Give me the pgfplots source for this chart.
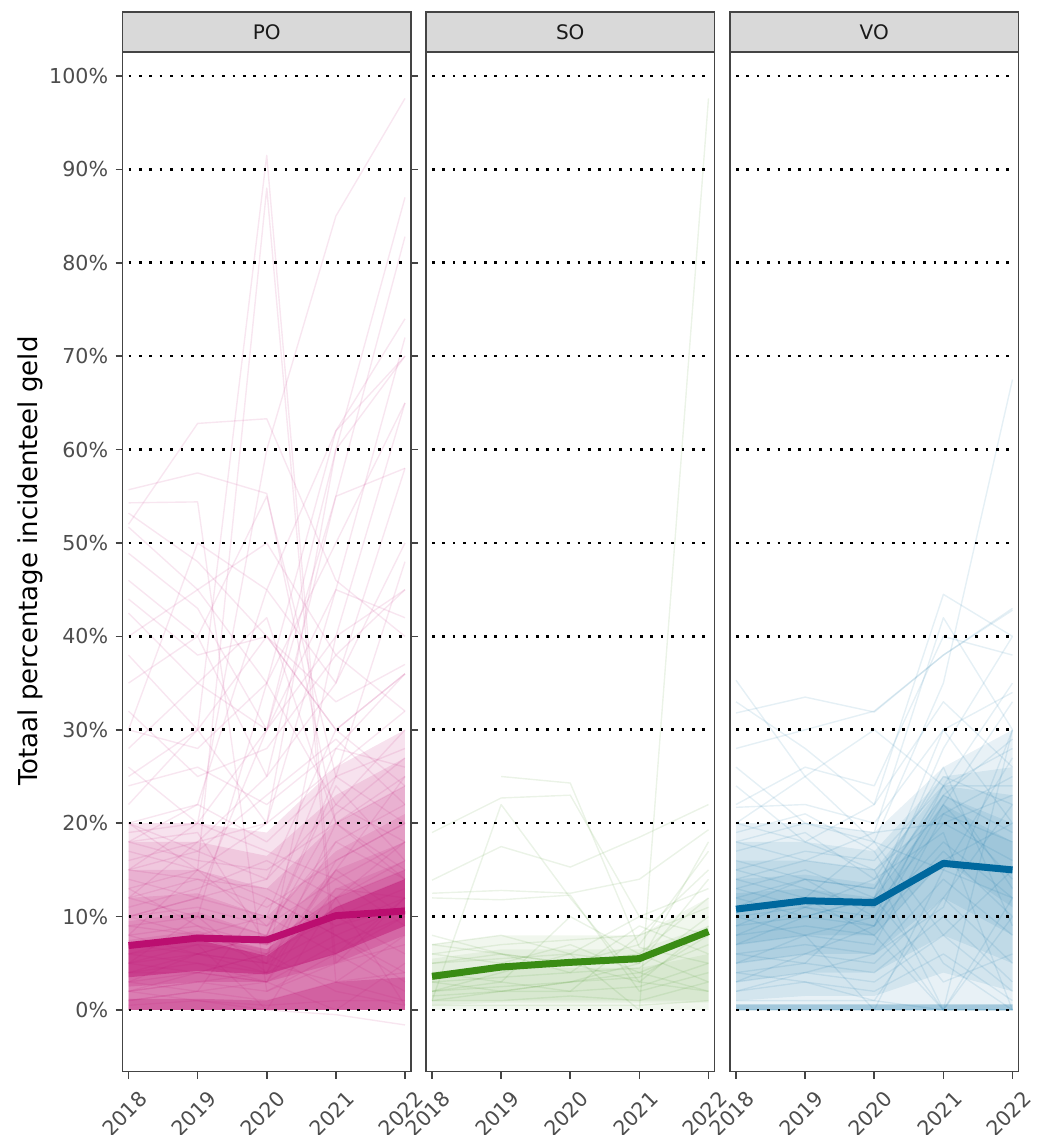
\documentclass[border=0pt]{standalone}
\usepackage{pgfplots}
\pgfplotsset{compat=1.18}
\usepackage{pgfplotstable}
\usepackage{fontspec}
\setmainfont{DejaVu Sans}
\definecolor{POc}{HTML}{BB0E70}
\definecolor{SOc}{HTML}{3A8C14}
\definecolor{VOc}{HTML}{00689E}
\definecolor{stripfill}{HTML}{D9D9D9}
\definecolor{framec}{HTML}{444444}
\definecolor{tickc}{HTML}{4D4D4D}
\definecolor{stripc}{HTML}{1A1A1A}

% each row is one school board: values for 2018..2022
\pgfplotstableread[header=has colnames]{
2018 2019 2020 2021 2022
55.7 57.5 55.3 20 25
54.3 54.4 2 6 10
52 62.8 63.3 46 40
53.2 48 40 30 36
51.7 45 50 38 45
48.9 43 30 55 58
46 40 25 35 50
42.5 35 42 20 15
38 30 20 60 70
30 28 35 62 74
25 30 91.5 5 12
20 15 88 3 8
15 20 60 85 97.6
10 12 30 60 87
12 18 25 55 82.8
8 15 20 45 72
5 10 35 50 65
18 22 45 35 58
28 35 30 40 45
35 40 55 25 20
22 30 40 30 36
32 25 28 38 32
40 45 35 22 18
30 50 45 62 70
10 8 5 40 65
24 26 22 28 26
26 20 30 45 42
4 6 8 25 48
2 1 0 -0.5 -1.6
44 38 40 33 37
20 22 18 25 28
18 16 15 20 24
15 17 14 22 30
12 14 11 16 20
10 11 9 14 18
8 9 7 12 15
6 7 6 10 13
5 6 5 9 12
4 5 4 8 11
3 4 3 7 10
2 3 2 5 7
1 2 1 3 4
0.5 1 0.5 1 1
7 8 6 18 22
9 10 4 20 14
14 12 10 6 2
17 15 12 8 3
11 13 16 12 0.5
6 5 3 0 5
13 9 5 15 25
19 20 17 14 9
3 6 8 24 16
5 7 0 12 18
16 18 20 26 32
7 6 5 3 1
2 4 6 11 14
4 4 3 13 12
12 10 8 21 27
9 8 7 10 6
1 2 3 16 20
15 14 13 9 11
18 19 7 12 16
6 8 10 28 36
3 2 12 8 4
10 12 14 30 24
5 4 6 2 0.5
8 6 4 15 10
2 3 4 6 12
13 15 9 18 14
20 17 23 29 22
}\POraw
\pgfplotstableread[header=has colnames]{
2018 2019 2020 2021 2022
nan 25 24.3 6.7 5
19 22.7 23 10 8
13.9 17.5 15.3 18.5 22
12.5 12.8 12.5 14 19.3
1 22 12 3 2
12 11.8 12.3 2 4
5 5.5 6 0 97.6
6 7 7.5 8 15
4 4.5 5 6 12
3 3.5 4 4.5 10
2 2.5 3 3.5 8
1.5 2 2 2.5 5
1 1 1.5 1 3
0.5 0.5 0.5 0.5 1
7 6 5 7 17
5 6 4 9 6
3 2 3 5 14
2 4 6 5 18
6 5 7 4 2
8 6 5 3 9
4 3 2 8 11
2 3 10 6 3
1 2 3 4 7
7 8 6 10 13
}\SOraw
\pgfplotstableread[header=has colnames]{
2018 2019 2020 2021 2022
35.3 25 18 15 12
31.8 33.5 31.9 38 42.8
33 28 22 44.5 40
28 30 32 38 43
22 26 24 40 38
26 20 18 35 67.5
21.7 22 20 30 34
20 25 30 24 28
24 18 15 0 30
18 20 19 42 30
15 17 16 24 35
12 14 13 23 29
14 16 15 21 18
13 15 12 22 14
11 12 11 20 16
10 11 10 18 12
9 10 9 17 10
8 9 8 16 20
7 8 7 21 25
6 7 6 14 8
5 6 5 12 5
4 5 4 10 3
3 4 3 8 15
2 3 2 6 1
1 1 1 0 0
0 0 0 0 0
16 14 10 0 12
17 19 14 25 22
19 21 17 5 0
6 5 12 24 24
9 12 8 0 10
12 10 12 30 20
15 13 11 28 40
3 6 9 22 33
10 8 0 15 27
14 12 18 8 2
8 11 14 19 0
5 8 10 23 19
11 14 13 26 9
18 16 19 20 23
2 4 6 11 30
7 10 12 3 6
13 11 9 24 13
20 18 22 33 26
4 3 1 12 22
}\VOraw
\pgfplotstabletranspose[header=has colnames]{\POt}{\POraw}
\pgfplotstabletranspose[header=has colnames]{\SOt}{\SOraw}
\pgfplotstabletranspose[header=has colnames]{\VOt}{\VOraw}
\pgfplotstablegetcolsof{\POt}\pgfmathtruncatemacro{\NPO}{\pgfplotsretval-1}
\pgfplotstablegetcolsof{\SOt}\pgfmathtruncatemacro{\NSO}{\pgfplotsretval-1}
\pgfplotstablegetcolsof{\VOt}\pgfmathtruncatemacro{\NVO}{\pgfplotsretval-1}

\pgfplotsset{
  panel/.style={
    scale only axis, width=144.25pt, height=509.75pt,
    xmin=2017.913, xmax=2022.087, ymin=-6.585, ymax=102.57,
    axis line style={draw=framec, line width=0.8pt},
    xtick={2018,2019,2020,2021,2022},
    xticklabels={2018,2019,2020,2021,2022},
    tick align=outside, major tick length=3.5pt,
    tick style={draw=framec, line width=0.8pt},
    xticklabel style={font=\fontsize{10.3}{12}\selectfont, text=tickc, rotate=45,
      anchor=north east, inner sep=0pt, xshift=-0.5pt, yshift=-7pt, overlay},
    yticklabel style={font=\fontsize{10.3}{12}\selectfont, text=tickc, inner sep=0pt, anchor=east, xshift=-3.5pt},
    unbounded coords=jump,
  },
  bg/.style={draw=#1, draw opacity=0.1, line width=0.7pt, line join=round},
  main/.style={draw=#1, line width=3.5pt, line join=round},
  band/.style={draw=none, fill=#1},
}
\newcommand{\gridlines}{%
  \pgfplotsinvokeforeach{0,10,...,100}{%
    \draw[black, line width=1.3pt, dash pattern=on 1.3pt off 3.9pt] (axis cs:2018,##1) -- (axis cs:2022,##1);}%
}

\begin{document}
\begin{tikzpicture}
\path (-61.25pt,-31.75pt) rectangle (462.75pt,535.75pt);

% ---------------- PO ----------------
\begin{axis}[panel, name=po, at={(0pt,0pt)}, anchor=south west,
  ytick={0,10,...,100},
  yticklabels={0\%,10\%,20\%,30\%,40\%,50\%,60\%,70\%,80\%,90\%,100\%}]
\addplot[band=POc, fill opacity=0.12] coordinates {(2018,0)(2019,0)(2020,0)(2021,0)(2022,0)(2022,30)(2021,26)(2020,19)(2019,20)(2018,20)} -- cycle;
\addplot[band=POc, fill opacity=0.12] coordinates {(2018,0)(2019,0)(2020,0)(2021,0)(2022,0)(2022,27)(2021,23)(2020,16.5)(2019,18)(2018,18)} -- cycle;
\addplot[band=POc, fill opacity=0.12] coordinates {(2018,0)(2019,0)(2020,0)(2021,0)(2022,0)(2022,24)(2021,20)(2020,13)(2019,15)(2018,15)} -- cycle;
\addplot[band=POc, fill opacity=0.12] coordinates {(2018,0)(2019,0)(2020,0)(2021,0)(2022,0)(2022,21)(2021,17)(2020,10)(2019,12.5)(2018,12)} -- cycle;
\addplot[band=POc, fill opacity=0.12] coordinates {(2018,0)(2019,0)(2020,0)(2021,0)(2022,0)(2022,18)(2021,15)(2020,8)(2019,10.5)(2018,9.5)} -- cycle;
\addplot[band=POc, fill opacity=0.12] coordinates {(2018,0)(2019,0)(2020,0)(2021,0)(2022,0)(2022,16)(2021,13)(2020,6.5)(2019,8.5)(2018,7.5)} -- cycle;
\addplot[band=POc, fill opacity=0.25] coordinates {(2018,0)(2019,0)(2020,0)(2021,0)(2022,0)(2022,3.5)(2021,3)(2020,1)(2019,1.2)(2018,1.2)} -- cycle;
\addplot[band=POc, fill opacity=0.2] coordinates {(2018,2.5)(2019,3)(2020,3)(2021,5)(2022,8)(2022,15)(2021,12)(2020,6.5)(2019,8)(2018,7)} -- cycle;
\addplot[band=POc, fill opacity=0.45] coordinates {(2018,3.5)(2019,4.2)(2020,3.8)(2021,6)(2022,9)(2022,14)(2021,11)(2020,5.8)(2019,7.5)(2018,6.8)} -- cycle;
\pgfplotsinvokeforeach{1,...,\NPO}{\addplot[bg=POc] table[x index=0, y index=#1] {\POt};}
\gridlines
\addplot[main=POc] coordinates {(2018,6.9)(2019,7.7)(2020,7.5)(2021,10.1)(2022,10.6)};
\end{axis}
\draw[fill=stripfill, draw=framec, line width=0.8pt] (po.north west) rectangle ([yshift=20pt]po.north east);
\node[font=\fontsize{10}{12}\selectfont, text=stripc] at ([yshift=10pt]po.north) {PO};

% ---------------- SO ----------------
\begin{axis}[panel, name=so, at={(151.75pt,0pt)}, anchor=south west, ytick=\empty]
\addplot[band=SOc, fill opacity=0.07] coordinates {(2018,0)(2019,0)(2020,0)(2021,0)(2022,0)(2022,12)(2021,8)(2020,8)(2019,8)(2018,7)} -- cycle;
\addplot[band=SOc, fill opacity=0.07] coordinates {(2018,0.5)(2019,0.8)(2020,0.8)(2021,0.8)(2022,0.8)(2022,9)(2021,6.5)(2020,6.5)(2019,6.5)(2018,5.5)} -- cycle;
\addplot[band=SOc, fill opacity=0.07] coordinates {(2018,1)(2019,1)(2020,1)(2021,1)(2022,1)(2022,6)(2021,4.5)(2020,4.5)(2019,4.5)(2018,4)} -- cycle;
\pgfplotsinvokeforeach{1,...,\NSO}{\addplot[bg=SOc] table[x index=0, y index=#1] {\SOt};}
\gridlines
\addplot[main=SOc] coordinates {(2018,3.6)(2019,4.6)(2020,5.1)(2021,5.5)(2022,8.4)};
\end{axis}
\draw[fill=stripfill, draw=framec, line width=0.8pt] (so.north west) rectangle ([yshift=20pt]so.north east);
\node[font=\fontsize{10}{12}\selectfont, text=stripc] at ([yshift=10pt]so.north) {SO};

% ---------------- VO ----------------
\begin{axis}[panel, name=vo, at={(303.75pt,0pt)}, anchor=south west, ytick=\empty]
\addplot[band=VOc, fill opacity=0.09] coordinates {(2018,0)(2019,0)(2020,0)(2021,0)(2022,0)(2022,30)(2021,26)(2020,19)(2019,20)(2018,20)} -- cycle;
\addplot[band=VOc, fill opacity=0.09] coordinates {(2018,1)(2019,1.5)(2020,1.5)(2021,4)(2022,2)(2022,26)(2021,25)(2020,17)(2019,18)(2018,18)} -- cycle;
\addplot[band=VOc, fill opacity=0.09] coordinates {(2018,3)(2019,4)(2020,4)(2021,8)(2022,5)(2022,23)(2021,24)(2020,15)(2019,16)(2018,16)} -- cycle;
\addplot[band=VOc, fill opacity=0.09] coordinates {(2018,5)(2019,6)(2020,6)(2021,12)(2022,8)(2022,20)(2021,23)(2020,13.5)(2019,14.5)(2018,14)} -- cycle;
\addplot[band=VOc, fill opacity=0.09] coordinates {(2018,7)(2019,8)(2020,8)(2021,16)(2022,11)(2022,18)(2021,22)(2020,12)(2019,13)(2018,12.5)} -- cycle;
\addplot[band=VOc, fill opacity=0.3] coordinates {(2018,0)(2019,0)(2020,0)(2021,0)(2022,0)(2022,0.6)(2021,0.6)(2020,0.6)(2019,0.6)(2018,0.6)} -- cycle;
\pgfplotsinvokeforeach{1,...,\NVO}{\addplot[bg=VOc] table[x index=0, y index=#1] {\VOt};}
\gridlines
\addplot[main=VOc] coordinates {(2018,10.8)(2019,11.7)(2020,11.5)(2021,15.7)(2022,15)};
\end{axis}
\draw[fill=stripfill, draw=framec, line width=0.8pt] (vo.north west) rectangle ([yshift=20pt]vo.north east);
\node[font=\fontsize{10}{12}\selectfont, text=stripc] at ([yshift=10pt]vo.north) {VO};

\node[rotate=90, font=\fontsize{13}{15}\selectfont, text=black] at (-46.25pt,255.25pt) {Totaal percentage incidenteel geld};
\end{tikzpicture}
\end{document}
